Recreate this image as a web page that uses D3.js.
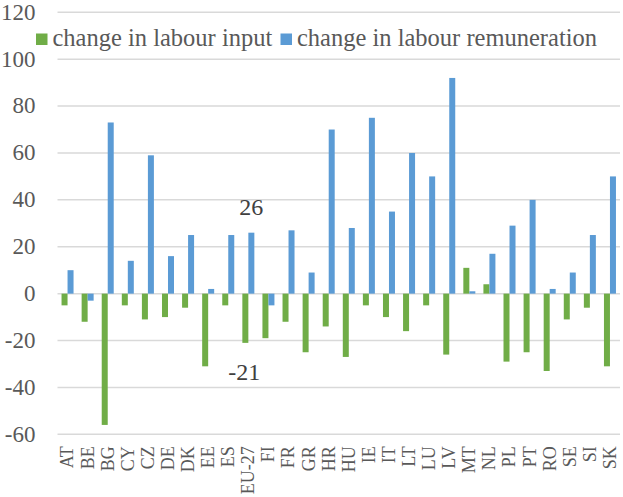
<!DOCTYPE html>
<html>
<head>
<meta charset="utf-8">
<script src="https://cdn.jsdelivr.net/npm/d3@7"></script>
<style>
  body { margin: 0; background: #fff; }
</style>
</head>
<body>
<div id="chart"></div>
<script>
var countries = ["AT","BE","BG","CY","CZ","DE","DK","EE","ES","EU-27","FI","FR","GR","HR",
                 "HU","IE","IT","LT","LU","LV","MT","NL","PL","PT","RO","SE","SI","SK"];
var labourInput = [-5,-12,-56,-5,-11,-10,-6,-31,-5,-21,-19,-12,-25,-14,
                   -27,-5,-10,-16,-5,-26,11,4,-29,-25,-33,-11,-6,-31];
var labourRemuneration = [10,-3,73,14,59,16,25,2,25,26,-5,27,9,70,
                          28,75,35,60,50,92,1,17,29,40,2,9,25,50];
var yTicks = [-60,-40,-20,0,20,40,60,80,100,120];
var seriesNames = ["change in labour input", "change in labour remuneration"];
var colors = ["#70ad47", "#5b9bd5"];

var serif = "'Liberation Serif', 'Times New Roman', serif";
var width = 623, height = 497;
var margin = {top: 12.3, right: 3, bottom: 62.7, left: 57.5};

var svg = d3.select("#chart")
  .append("svg")
    .attr("width", width)
    .attr("height", height)
    .style("font-family", serif);

var x = d3.scaleBand()
  .domain(countries)
  .range([margin.left, width - margin.right]);

var y = d3.scaleLinear()
  .domain([-60, 120])
  .range([height - margin.bottom, margin.top]);

// gridlines
svg.append("g")
  .selectAll("line")
  .data(yTicks)
  .enter()
  .append("line")
    .attr("x1", margin.left)
    .attr("x2", width - margin.right)
    .attr("y1", function (d) { return y(d); })
    .attr("y2", function (d) { return y(d); })
    .attr("stroke", "#d9d9d9")
    .attr("stroke-width", 1.5);

// y axis labels
var yAxis = svg.append("g")
  .attr("transform", "translate(" + (margin.left - 22) + ",0)")
  .call(d3.axisLeft(y).tickValues(yTicks).tickSize(0).tickPadding(0)
    .tickFormat(function (d) { return String(d); }));
yAxis.attr("font-family", null);
yAxis.select(".domain").remove();
yAxis.selectAll("text")
  .attr("fill", "#595959")
  .style("font-family", serif)
  .style("font-size", "23px")
  .attr("dy", "0.3em");

// bars
var barW = 6;
var series = [labourInput, labourRemuneration];
series.forEach(function (vals, s) {
  svg.append("g")
    .selectAll("rect")
    .data(vals)
    .enter()
    .append("rect")
      .attr("x", function (d, i) { return x(countries[i]) + x.bandwidth() / 2 - barW + s * barW; })
      .attr("y", function (d) { return y(Math.max(0, d)); })
      .attr("width", barW)
      .attr("height", function (d) { return Math.abs(y(d) - y(0)); })
      .attr("fill", colors[s]);
});

// x axis labels
var xAxis = svg.append("g")
  .attr("transform", "translate(0," + y(-60) + ")")
  .call(d3.axisBottom(x).tickSize(0).tickPadding(0));
xAxis.attr("font-family", null);
xAxis.select(".domain").remove();
xAxis.selectAll("text")
  .attr("fill", "#595959")
  .style("font-family", serif)
  .style("font-size", "18px")
  .style("text-anchor", "end")
  .attr("transform", "rotate(-90)")
  .attr("x", -12)
  .attr("y", 0)
  .attr("dy", "0.33em");

// data labels for EU-27
var eu = countries.indexOf("EU-27");
svg.append("text")
  .attr("x", x("EU-27") + x.bandwidth() / 2 + 3)
  .attr("y", y(labourRemuneration[eu]) - 18)
  .attr("text-anchor", "middle")
  .attr("fill", "#404040")
  .style("font-family", serif)
  .style("font-size", "24px")
  .text(labourRemuneration[eu]);
svg.append("text")
  .attr("x", x("EU-27") + x.bandwidth() / 2 - 4)
  .attr("y", y(labourInput[eu]) + 37)
  .attr("text-anchor", "middle")
  .attr("fill", "#404040")
  .style("font-family", serif)
  .style("font-size", "24px")
  .text(labourInput[eu]);

// legend
var legendX = [36, 280.5];
var legend = svg.append("g");
seriesNames.forEach(function (name, i) {
  legend.append("rect")
    .attr("x", legendX[i])
    .attr("y", 33.5)
    .attr("width", 11.5)
    .attr("height", 11.5)
    .attr("fill", colors[i]);
  legend.append("text")
    .attr("x", legendX[i] + 16.5)
    .attr("y", 46)
    .attr("fill", "#595959")
    .style("font-family", serif)
    .style("font-size", "24.5px")
    .text(name);
});
</script>
</body>
</html>
